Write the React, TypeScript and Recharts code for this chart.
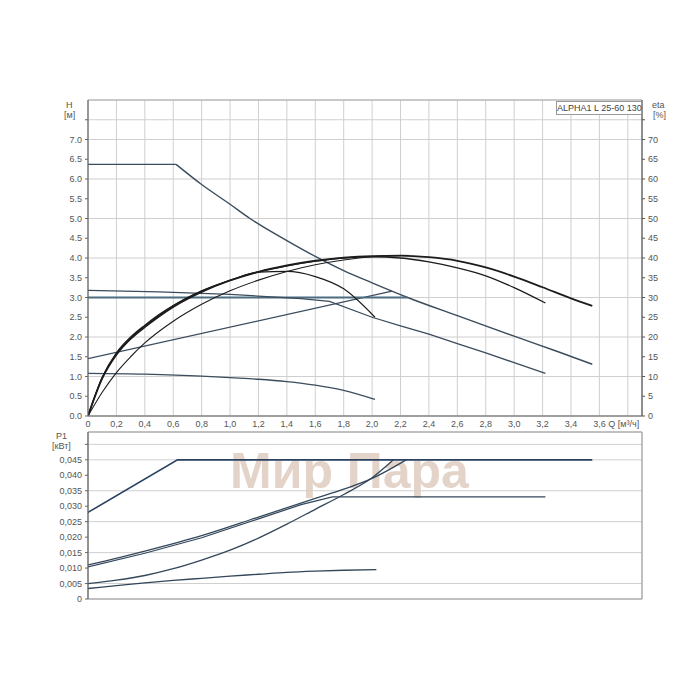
import React from 'react';
import { LineChart, Line, XAxis, YAxis, CartesianGrid, ReferenceArea } from 'recharts';

// --- pump curves ---
// Q in m3/h, H in m, eta in %, P1 in kW

const qTicks = [0, 0.2, 0.4, 0.6, 0.8, 1.0, 1.2, 1.4, 1.6, 1.8, 2.0, 2.2, 2.4, 2.6, 2.8, 3.0, 3.2, 3.4, 3.6, 3.8];
const hTicks = [0, 0.5, 1, 1.5, 2, 2.5, 3, 3.5, 4, 4.5, 5, 5.5, 6, 6.5, 7, 7.5];
const etaTicks = [0, 5, 10, 15, 20, 25, 30, 35, 40, 45, 50, 55, 60, 65, 70, 75];
const pTicks = [0, 0.005, 0.01, 0.015, 0.02, 0.025, 0.03, 0.035, 0.04, 0.045, 0.05];

// H curves (max curve = flat part + falling part)
const qHMaxFlat = [0, 0.62];
const hMaxFlat = [6.37, 6.37];
const qHMax = [0.62, 0.8, 1.0, 1.14, 1.4, 1.6, 1.8, 2.0, 2.25, 2.6, 3.0, 3.3, 3.55];
const hMax = [6.37, 5.86, 5.36, 5.0, 4.44, 4.04, 3.68, 3.37, 3.0, 2.54, 2.02, 1.64, 1.31];
const qHProp = [0, 2.14];
const hProp = [1.45, 3.16];
const qHConst = [0, 2.25];
const hConst = [3.0, 3.0];
const qHMid = [0, 0.5, 1.0, 1.5, 1.7, 2.0, 2.2, 2.4, 2.6, 2.8, 3.0, 3.22];
const hMid = [3.18, 3.14, 3.08, 2.97, 2.9, 2.5, 2.28, 2.07, 1.83, 1.6, 1.35, 1.08];
const qHLow = [0, 0.4, 0.8, 1.0, 1.2, 1.4, 1.6, 1.8, 2.02];
const hLow = [1.08, 1.06, 1.01, 0.97, 0.93, 0.87, 0.78, 0.65, 0.42];

// eta curves
const qEta1 = [0, 0.1, 0.2, 0.3, 0.4, 0.5, 0.6, 0.8, 1.0, 1.2, 1.4, 1.6, 1.8, 2.0, 2.2, 2.4, 2.6, 2.8, 3.0, 3.2, 3.4, 3.55];
const eta1 = [0, 9.5, 15.5, 19.5, 22.5, 25.2, 27.6, 31.4, 34.3, 36.5, 38.1, 39.3, 40.1, 40.5, 40.6, 40.2, 39.3, 37.6, 35.3, 32.6, 29.8, 27.9];
const qEta2 = [0, 0.1, 0.2, 0.3, 0.4, 0.5, 0.6, 0.8, 1.0, 1.2, 1.4, 1.6, 1.8, 2.0, 2.2, 2.4, 2.6, 2.8, 3.0, 3.22];
const eta2 = [0, 9.6, 15.7, 19.7, 22.8, 25.5, 27.9, 31.6, 34.4, 36.5, 38.0, 39.2, 40.0, 40.3, 40.0, 39.0, 37.5, 35.5, 32.5, 28.6];
const qEta3 = [0, 0.1, 0.2, 0.3, 0.4, 0.5, 0.6, 0.8, 1.0, 1.2, 1.4, 1.6, 1.8, 2.02];
const eta3 = [0, 9.8, 16.0, 20.0, 23.0, 25.7, 28.0, 31.7, 34.3, 36.4, 36.6, 35.3, 32.2, 25.0];
const qEta4 = [0, 0.1, 0.2, 0.3, 0.4, 0.6, 0.8, 1.0, 1.2, 1.4, 1.6, 1.8, 2.0, 2.2];
const eta4 = [0, 6, 11, 15, 18.5, 24, 28.3, 31.7, 34.4, 36.6, 38.3, 39.5, 40.3, 40.6];

// P1 curves
const qPMax = [0, 0.63, 3.55];
const pMax = [0.028, 0.045, 0.045];
const qPConst = [0, 0.4, 0.8, 1.2, 1.6, 1.8, 2.0, 2.24];
const pConst = [0.011, 0.0155, 0.0205, 0.0265, 0.0325, 0.0355, 0.039, 0.045];
const qPMid = [0, 0.4, 0.8, 1.2, 1.5, 1.72, 3.22];
const pMid = [0.0104, 0.0148, 0.0198, 0.0259, 0.0305, 0.033, 0.033];
const qPProp = [0, 0.2, 0.4, 0.6, 0.8, 1.0, 1.2, 1.4, 1.6, 1.8, 2.0, 2.15];
const pProp = [0.005, 0.0061, 0.0076, 0.0098, 0.0126, 0.0158, 0.0197, 0.0242, 0.029, 0.0338, 0.0392, 0.045];
const qPLow = [0, 0.2, 0.4, 0.6, 0.8, 1.0, 1.2, 1.4, 1.6, 1.8, 2.03];
const pLow = [0.0034, 0.0043, 0.0052, 0.006, 0.0067, 0.0074, 0.008, 0.0086, 0.009, 0.0093, 0.0095];

const zip = (qs: number[], vs: number[]) => qs.map((q, i) => ({ q, v: vs[i] }));

const FONT = '"Liberation Sans", Arial, sans-serif';
const tickStyle = { fontSize: 9, fill: '#555', fontFamily: FONT };
const GRID = '#cfcfcf';
const H_COL = '#3b4c5c';
const ETA_COL = '#1c1c1c';
const P_COL = '#33475b';

const fmtQ = (v: number) => (v === 0 ? '0' : v === 3.8 ? 'Q [м³/ч]' : v.toFixed(1).replace('.', ','));
const fmtH = (v: number) => (v === 7.5 ? '' : v.toFixed(1));
const fmtEta = (v: number) => (v === 75 ? '' : String(v));
const fmtP = (v: number) => (v === 0 ? '0' : v === 0.05 ? '' : v.toFixed(3).replace('.', ','));

// x tick: the unit label at the end sits a little left so it stays off the eta axis
const QTick = (props: any) => {
  const { x, y, payload } = props;
  const last = payload.value === 3.8;
  return (
    <text x={x} y={y} dy={7} dx={last ? -4 : 0} textAnchor="middle" fontSize={9} fill="#555" fontFamily={FONT}>
      {fmtQ(payload.value)}
    </text>
  );
};

const small: React.CSSProperties = { position: 'absolute', fontSize: 9, color: '#555', fontFamily: FONT, lineHeight: '10px' };

export default function App() {
  return (
    <div style={{ position: 'absolute', left: 0, top: 0, width: 700, height: 700, background: '#fff', fontFamily: FONT }}>
      {/* watermark */}
      <div
        style={{
          position: 'absolute',
          left: 230,
          top: 442,
          fontSize: 50,
          fontWeight: 'bold',
          color: 'rgba(185,140,110,0.38)',
          fontFamily: FONT,
        }}
      >
        Мир Пара
      </div>

      <div style={{ position: 'absolute', left: 0, top: 0 }}>
        <LineChart width={700} height={440} margin={{ top: 100, right: 18, bottom: 4, left: 48 }}>
          <CartesianGrid yAxisId="h" stroke={GRID} />
          <XAxis
            type="number"
            dataKey="q"
            domain={[0, 3.9]}
            ticks={qTicks}
            tick={<QTick />}
            tickLine={false}
            tickSize={0}
            tickMargin={4}
            height={20}
            stroke="#777"
            allowDataOverflow
          />
          <YAxis
            yAxisId="h"
            type="number"
            domain={[0, 8]}
            ticks={hTicks}
            tickFormatter={fmtH}
            tick={tickStyle}
            tickSize={3}
            tickMargin={3}
            width={40}
            stroke="#666"
            allowDataOverflow
          />
          <YAxis
            yAxisId="eta"
            orientation="right"
            type="number"
            domain={[0, 80]}
            ticks={etaTicks}
            tickFormatter={fmtEta}
            tick={tickStyle}
            tickSize={3}
            tickMargin={3}
            width={40}
            stroke="#555"
            allowDataOverflow
          />
          <ReferenceArea yAxisId="h" x1={0} x2={3.9} y1={0} y2={8} fill="none" stroke="#aaa" ifOverflow="visible" />

          <Line yAxisId="h" data={zip(qHMaxFlat, hMaxFlat)} dataKey="v" type="linear" stroke={H_COL} strokeWidth={1.4} dot={false} isAnimationActive={false} />
          <Line yAxisId="h" data={zip(qHMax, hMax)} dataKey="v" type="monotone" stroke={H_COL} strokeWidth={1.4} dot={false} isAnimationActive={false} />
          <Line yAxisId="h" data={zip(qHProp, hProp)} dataKey="v" type="linear" stroke={H_COL} strokeWidth={1.3} dot={false} isAnimationActive={false} />
          <Line yAxisId="h" data={zip(qHConst, hConst)} dataKey="v" type="linear" stroke="#4d6d82" strokeWidth={2} dot={false} isAnimationActive={false} />
          <Line yAxisId="h" data={zip(qHMid, hMid)} dataKey="v" type="linear" stroke={H_COL} strokeWidth={1.3} dot={false} isAnimationActive={false} />
          <Line yAxisId="h" data={zip(qHLow, hLow)} dataKey="v" type="monotone" stroke={H_COL} strokeWidth={1.3} dot={false} isAnimationActive={false} />

          <Line yAxisId="eta" data={zip(qEta4, eta4)} dataKey="v" type="monotone" stroke={ETA_COL} strokeWidth={1.1} dot={false} isAnimationActive={false} />
          <Line yAxisId="eta" data={zip(qEta3, eta3)} dataKey="v" type="monotone" stroke={ETA_COL} strokeWidth={1.2} dot={false} isAnimationActive={false} />
          <Line yAxisId="eta" data={zip(qEta2, eta2)} dataKey="v" type="monotone" stroke={ETA_COL} strokeWidth={1.3} dot={false} isAnimationActive={false} />
          <Line yAxisId="eta" data={zip(qEta1, eta1)} dataKey="v" type="monotone" stroke={ETA_COL} strokeWidth={1.8} dot={false} isAnimationActive={false} />
        </LineChart>
      </div>

      <div style={{ position: 'absolute', left: 0, top: 420 }}>
        <LineChart width={700} height={190} margin={{ top: 12, right: 58, bottom: 10, left: 48 }}>
          <CartesianGrid stroke={GRID} />
          <XAxis
            type="number"
            dataKey="q"
            domain={[0, 3.9]}
            ticks={qTicks}
            tick={false}
            tickLine={false}
            axisLine={false}
            height={1}
            allowDataOverflow
          />
          <YAxis
            type="number"
            domain={[0, 0.054]}
            ticks={pTicks}
            tickFormatter={fmtP}
            tick={tickStyle}
            tickSize={3}
            tickMargin={3}
            width={40}
            stroke="#666"
            allowDataOverflow
          />
          <ReferenceArea x1={0} x2={3.9} y1={0} y2={0.054} fill="none" stroke="#999" ifOverflow="visible" />

          <Line data={zip(qPLow, pLow)} dataKey="v" type="monotone" stroke={P_COL} strokeWidth={1.3} dot={false} isAnimationActive={false} />
          <Line data={zip(qPProp, pProp)} dataKey="v" type="monotone" stroke={P_COL} strokeWidth={1.3} dot={false} isAnimationActive={false} />
          <Line data={zip(qPMid, pMid)} dataKey="v" type="linear" stroke={P_COL} strokeWidth={1.2} dot={false} isAnimationActive={false} />
          <Line data={zip(qPConst, pConst)} dataKey="v" type="monotone" stroke={P_COL} strokeWidth={1.3} dot={false} isAnimationActive={false} />
          <Line data={zip(qPMax, pMax)} dataKey="v" type="linear" stroke="#2a4262" strokeWidth={1.6} dot={false} isAnimationActive={false} />
        </LineChart>
      </div>

      {/* axis titles */}
      <div style={{ ...small, left: 66, top: 100 }}>H</div>
      <div style={{ ...small, left: 64, top: 110 }}>[м]</div>
      <div style={{ ...small, left: 652, top: 100 }}>eta</div>
      <div style={{ ...small, left: 653, top: 110 }}>[%]</div>
      <div style={{ ...small, left: 56, top: 431 }}>P1</div>
      <div style={{ ...small, left: 52, top: 441 }}>[кВт]</div>

      {/* model label */}
      <div
        style={{
          position: 'absolute',
          left: 556,
          top: 101,
          width: 84,
          height: 12,
          border: '1px solid #999',
          background: '#fff',
          fontSize: 9,
          lineHeight: '12px',
          color: '#444',
          textAlign: 'center',
          fontFamily: FONT,
          whiteSpace: 'nowrap',
        }}
      >
        ALPHA1 L 25-60 130
      </div>
    </div>
  );
}
